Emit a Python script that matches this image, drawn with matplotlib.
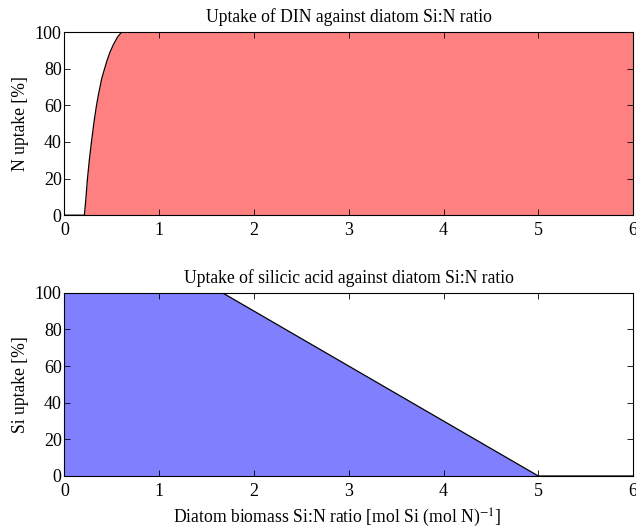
import matplotlib
matplotlib.use("Agg")
import matplotlib.pyplot as plt

# DIN uptake vs diatom Si:N ratio
din_ratio = [0.0, 0.21, 0.224, 0.241, 0.262, 0.287, 0.312, 0.335, 0.357,
             0.393, 0.446, 0.48, 0.515, 0.56, 0.604, 6.0]
din_uptake = [0, 0, 8, 19, 30, 41, 51, 59, 65.5,
              74.6, 84, 89, 93, 97.3, 100, 100]

# silicic acid uptake vs diatom Si:N ratio
si_ratio = [0.0, 1.667, 5.0, 6.0]
si_uptake = [100, 100, 0, 0]

plt.rcParams['font.family'] = ['Liberation Serif', 'DejaVu Serif']
plt.rcParams['mathtext.fontset'] = 'stix'
plt.rcParams['font.size'] = 13

fig = plt.figure(figsize=(6.36, 5.3), dpi=100)
ax1 = fig.add_axes([0.1014, 0.594, 0.894, 0.3456])
ax2 = fig.add_axes([0.1014, 0.1019, 0.894, 0.3456])

ax1.fill_between(din_ratio, din_uptake, 0, color='#ff8080', linewidth=0)
ax1.plot(din_ratio, din_uptake, color='black', linewidth=0.9)
ax1.set_title('Uptake of DIN against diatom Si:N ratio', fontsize=12.7, pad=7)
ax1.set_ylabel('N uptake [%]', fontsize=12.7)

ax2.fill_between(si_ratio, si_uptake, 0, color='#8080ff', linewidth=0)
ax2.plot(si_ratio, si_uptake, color='black', linewidth=0.9)
ax2.set_title('Uptake of silicic acid against diatom Si:N ratio', fontsize=12.7, pad=7)
ax2.set_ylabel('Si uptake [%]', fontsize=12.7)
ax2.set_xlabel('Diatom biomass Si:N ratio [mol Si (mol N)$^{-1}$]', fontsize=12.7)
ax2.xaxis.set_label_coords(0.48, -0.165, transform=ax2.transAxes)
ax2.xaxis.label.set_va('top')

for ax in (ax1, ax2):
    ax.set_xlim(0, 6)
    ax.set_ylim(0, 100)
    ax.set_xticks(range(0, 7))
    ax.set_yticks(range(0, 101, 20))
    ax.tick_params(direction='in', top=True, right=True, length=4, width=0.6,
                   labelsize=13)
    ax.tick_params(axis='x', pad=5)
    ax.tick_params(axis='y', pad=2)
    for s in ax.spines.values():
        s.set_linewidth(0.8)

fig.savefig('out.png', dpi=100)
